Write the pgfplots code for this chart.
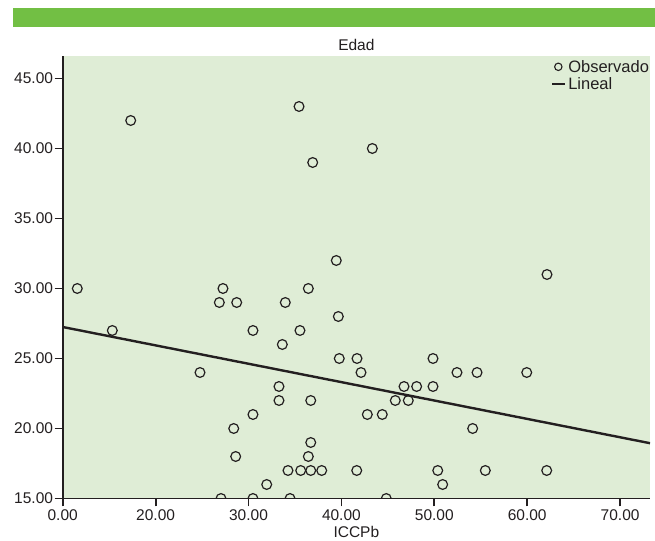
\documentclass[border=0pt]{standalone}
\usepackage{pgfplots}
\pgfplotsset{compat=1.18}
\usepackage{fontspec}
\setmainfont{Liberation Sans}
\definecolor{barGreen}{RGB}{114,191,68}
\definecolor{bgGreen}{RGB}{223,237,214}
\definecolor{ink}{RGB}{35,31,32}
\newcommand{\lblfont}{\fontsize{15.5bp}{18bp}\selectfont}
\newcommand{\legfont}{\fontsize{16.5bp}{19bp}\selectfont}
\begin{document}
\begin{tikzpicture}[x=1bp,y=1bp]
\useasboundingbox (0,0) rectangle (655,541);
\fill[barGreen] (13,514) rectangle (655,533);
\begin{axis}[
  at={(62.7bp,42.5bp)}, anchor=south west,
  scale only axis, width=587.3bp, height=442.4bp,
  xmin=10, xmax=73.22, ymin=15, ymax=46.6,
  axis lines*=left,
  axis line style={ink, line width=1.8bp},
  axis background/.style={fill=bgGreen},
  tick align=outside, major tick length=8bp,
  tick style={ink, line width=1.8bp},
  xtick={10,20,30,40,50,60,70},
  xticklabels={0.00,20.00,30.00,40.00,50.00,60.00,70.00},
  ytick={15,20,25,30,35,40,45},
  yticklabels={15.00,20.00,25.00,30.00,35.00,40.00,45.00},
  ticklabel style={font=\lblfont, text=ink},
  xticklabel style={inner sep=1.5bp, yshift=-1bp},
  yticklabel style={inner sep=1.5bp},
  title={Edad},
  title style={at={(0.5,1)}, anchor=south, inner sep=0pt, yshift=-1bp, font=\lblfont, text=ink},
  xlabel={ICCPb},
  xlabel style={at={(axis description cs:0.5,0)}, anchor=base, yshift=-39bp, font=\lblfont, text=ink},
  clip mode=individual, clip marker paths=true,
  legend style={at={(1,1)}, anchor=north east, draw=none, fill=none,
    inner sep=0pt, outer sep=0pt, yshift=-2bp, xshift=1bp, font=\legfont, text=ink,
    row sep=0bp, /tikz/every even column/.append style={column sep=0bp}},
  legend cell align=left,
]
\addplot[only marks, mark=o, mark size=4.9bp, mark options={ink, line width=1.2bp},
  legend image code/.code={\draw[ink, line width=1.1bp] (6bp,0) circle[radius=3.7bp];}]
 table {
x y
11.57 30
15.34 27
17.32 42
24.78 24
26.86 29
27.25 30
28.73 29
30.48 27
33.96 29
33.64 26
36.44 30
35.54 27
35.44 43
36.91 39
39.45 32
39.67 28
39.77 25
41.68 25
42.11 24
43.33 40
33.28 23
33.28 22
36.70 22
30.48 21
28.41 20
36.70 19
28.62 18
36.44 18
34.25 17
35.62 17
36.70 17
37.88 17
41.65 17
31.96 16
27.04 15
30.48 15
34.47 15
44.83 15
49.86 25
52.44 24
54.60 24
59.95 24
62.13 31
46.74 23
48.10 23
49.86 23
45.80 22
47.20 22
42.79 21
44.40 21
54.13 20
50.37 17
55.49 17
62.10 17
50.90 16
};
\addlegendentry{Observado}
\addplot[ink, line width=2.4bp,
  legend image code/.code={\draw[ink, line width=2bp] (0bp,0) -- (13bp,0);}]
 coordinates {(10,27.25) (73.22,18.95)};
\addlegendentry{Lineal}
\end{axis}
\end{tikzpicture}
\end{document}
